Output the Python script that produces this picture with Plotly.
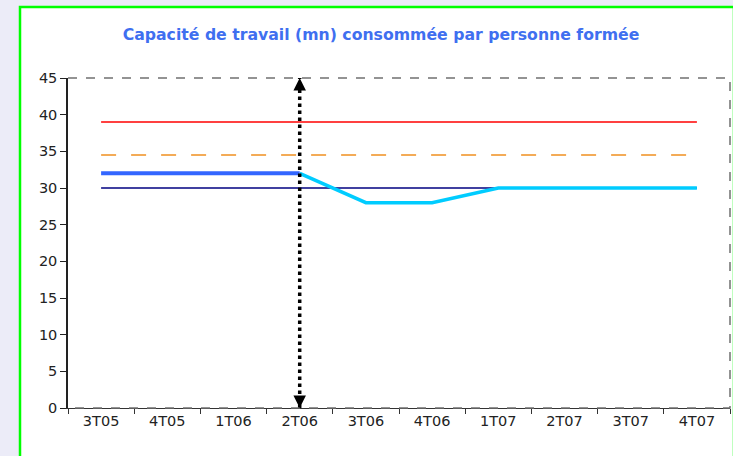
import plotly.graph_objects as go

categories = ["3T05", "4T05", "1T06", "2T06", "3T06", "4T06", "1T07", "2T07", "3T07", "4T07"]
seuil_haut = [39] * 10
seuil_moyen = [34.5] * 10
seuil_bas = [30] * 10
realise = [32, 32, 32, 32, None, None, None, None, None, None]
prevision = [None, None, None, 32, 28, 28, 30, 30, 30, 30]
marker_cat = "2T06"
y_ticks = [0, 5, 10, 15, 20, 25, 30, 35, 40, 45]

fig = go.Figure()
fig.add_trace(go.Scatter(x=categories, y=seuil_haut, mode="lines",
                         line=dict(color="#FF0000", width=1.5)))
fig.add_trace(go.Scatter(x=categories, y=seuil_moyen, mode="lines",
                         line=dict(color="#F09020", width=1.5, dash="longdash")))
fig.add_trace(go.Scatter(x=categories, y=seuil_bas, mode="lines",
                         line=dict(color="#000080", width=1.5)))
fig.add_trace(go.Scatter(x=categories, y=realise, mode="lines",
                         line=dict(color="#3366FF", width=4)))
fig.add_trace(go.Scatter(x=categories, y=prevision, mode="lines",
                         line=dict(color="#00CCFF", width=3.5)))
fig.add_trace(go.Scatter(x=[marker_cat, marker_cat], y=[y_ticks[0], y_ticks[-1]],
                         mode="lines",
                         line=dict(color="black", width=3.5, dash="dot")))
for y_tip, offset in [(y_ticks[-1], 6), (y_ticks[0], -6)]:
    fig.add_annotation(x=marker_cat, y=y_tip, ax=0, ay=offset,
                       xref="x", yref="y", text="",
                       showarrow=True, arrowhead=2, arrowsize=1, arrowwidth=2.5,
                       arrowcolor="black", standoff=0)

fig.add_shape(type="rect", xref="paper", yref="paper",
              x0=-48/662, x1=1 + 4/662, y0=-60/330, y1=1 + 71/330,
              line=dict(color="#00FF00", width=2.5), fillcolor="white", layer="below")
fig.add_shape(type="path", xref="paper", yref="paper",
              path="M 0 1 L 1 1 L 1 0 L 0 0",
              line=dict(color="#707070", width=1.5, dash="dash"), layer="above")

fig.update_layout(
    width=733, height=456,
    margin=dict(l=68, r=3, t=78, b=48),
    paper_bgcolor="#ECECF8",
    plot_bgcolor="white",
    showlegend=False,
    font=dict(family="DejaVu Sans", size=14, color="#222222"),
    title=dict(text="<b>Capacité de travail (mn) consommée par personne formée</b>",
               x=381/733, xanchor="center", y=1 - 35/456, yanchor="middle",
               font=dict(family="DejaVu Sans", size=15.7, color="#3F6FF0")),
)
fig.update_xaxes(type="category", categoryorder="array", categoryarray=categories,
                 range=[-0.5, 9.5], showgrid=False, zeroline=False,
                 showline=True, linecolor="#333333", linewidth=1,
                 ticks="outside", tickson="boundaries", ticklen=5, tickcolor="#333333",
                 tickfont=dict(size=14.5))
fig.update_yaxes(range=[0, 45], tickvals=y_ticks, showgrid=False, zeroline=False,
                 showline=True, linecolor="#222222", linewidth=1.5,
                 ticks="outside", ticklen=6, tickcolor="#222222",
                 tickfont=dict(size=14.5))

fig.write_html("out.html", config={"displayModeBar": False},
               post_script="document.body.style.margin='0';")
